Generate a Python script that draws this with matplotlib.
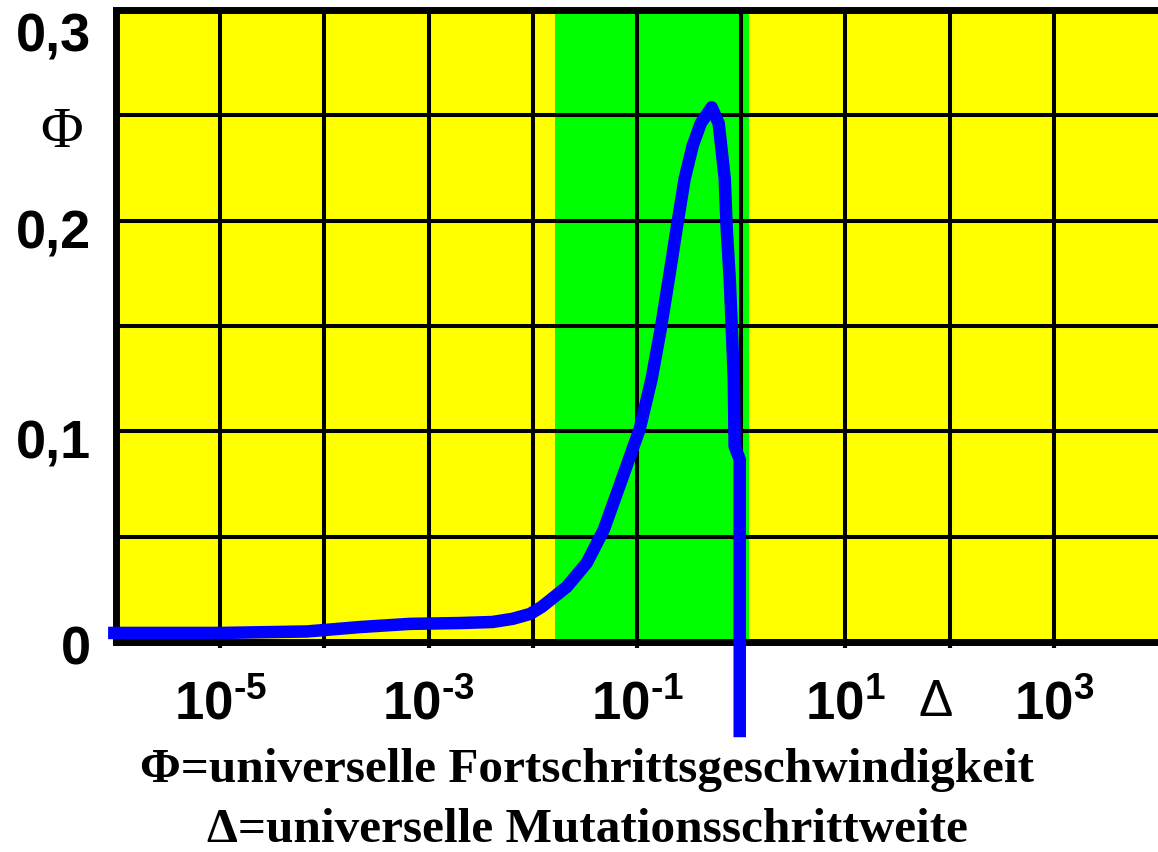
import matplotlib
matplotlib.use("Agg")
import matplotlib.pyplot as plt
import matplotlib.transforms as mtransforms
from matplotlib.ticker import NullLocator

# curve (Delta, Phi)
delta = [8.4e-7, 1.0e-5, 6.8e-5, 2.2e-4, 6.6e-4, 2.0e-3, 4.1e-3, 6.4e-3, 9.4e-3,
         0.0122, 0.0212, 0.033, 0.048, 0.0714, 0.106, 0.138, 0.169, 0.202, 0.240,
         0.287, 0.343, 0.409, 0.521, 0.608, 0.695, 0.726, 0.776, 0.813, 0.849, 0.865,
         0.968, 0.968]
phi = [0.0043, 0.0043, 0.0050, 0.0071, 0.0086, 0.0090, 0.0095, 0.0110, 0.0133,
       0.0167, 0.0262, 0.0376, 0.0533, 0.0771, 0.101, 0.1248, 0.1486, 0.1724, 0.1962,
       0.220, 0.2357, 0.2462, 0.2538, 0.2462, 0.220, 0.1962, 0.1724, 0.1486, 0.1248, 0.0929,
       0.0867, -0.0452]

green_band = (0.0163, 1.18)

x_decades = [1e-5, 1e-4, 1e-3, 1e-2, 1e-1, 1e0, 1e1, 1e2, 1e3]
x_labels = [r'$10^{\text{-5}}$', '', r'$10^{\text{-3}}$', '', r'$10^{\text{-1}}$', '',
            r'$10^{1}$', '', r'$10^{3}$']
y_ticks = [0, 0.1, 0.2, 0.3]
y_labels = ['0', '0,1', '0,2', '0,3']
y_grid_minor = [0.05, 0.15, 0.25]

caption_1 = 'Φ=universelle Fortschrittsgeschwindigkeit'
caption_2 = 'Δ=universelle Mutationsschrittweite'

plt.rcParams['mathtext.fontset'] = 'custom'
plt.rcParams['mathtext.rm'] = 'Liberation Sans:bold'
plt.rcParams['mathtext.it'] = 'Liberation Sans:bold'
plt.rcParams['mathtext.bf'] = 'Liberation Sans:bold'

fig = plt.figure(figsize=(11.58, 8.52), dpi=100)
fig.patch.set_facecolor('white')
ax = fig.add_axes([116 / 1158, 210 / 852, 1042 / 1158, 632 / 852])
ax.set_facecolor('#ffff00')
ax.set_xscale('log')
ax.set_xlim(1e-6, 1e4)
ax.set_ylim(0, 0.3)

ax.axvspan(green_band[0], green_band[1], facecolor='#00ff00', edgecolor='none', zorder=1)

ax.set_xticks(x_decades)
ax.set_xticklabels(x_labels)
ax.xaxis.set_minor_locator(NullLocator())
ax.set_yticks(y_ticks)
ax.set_yticklabels(y_labels, fontfamily='Liberation Sans', fontweight='bold', fontsize=39)
ax.set_yticks(y_grid_minor, minor=True)

ax.tick_params(axis='x', which='major', length=4, width=3, color='black', labelsize=38, pad=22)
ax.tick_params(axis='y', which='both', length=0, pad=18)
ax.grid(True, which='both', color='black', linewidth=2.9)

for side in ['left', 'top', 'bottom']:
    ax.spines[side].set_linewidth(5)
    ax.spines[side].set_color('black')
ax.spines['right'].set_visible(False)

# the y labels sit a little below their grid lines in the original
shifts = [-3, -8, -8, -22]
for lab, s in zip(ax.get_yticklabels(), shifts):
    lab.set_transform(lab.get_transform() + mtransforms.ScaledTranslation(0, s / 100, fig.dpi_scale_trans))

ax.plot(delta, phi, color='#0000ff', linewidth=9, solid_capstyle='butt',
        solid_joinstyle='round', clip_on=False, zorder=3)

ax.text(-0.052, 0.805, 'Φ', transform=ax.transAxes, ha='center', va='center',
        fontfamily='Liberation Serif', fontsize=42)
ax.text(0.787, -0.095, 'Δ', transform=ax.transAxes, ha='center', va='center',
        fontfamily='Liberation Sans', fontsize=37)

fig.text(0.507, 1 - 770 / 852, caption_1, ha='center', va='center',
         fontfamily='Liberation Serif', fontweight='bold', fontsize=35.5)
fig.text(0.507, 1 - 830 / 852, caption_2, ha='center', va='center',
         fontfamily='Liberation Serif', fontweight='bold', fontsize=35.5)

fig.savefig('out.png', dpi=100, facecolor='white')
